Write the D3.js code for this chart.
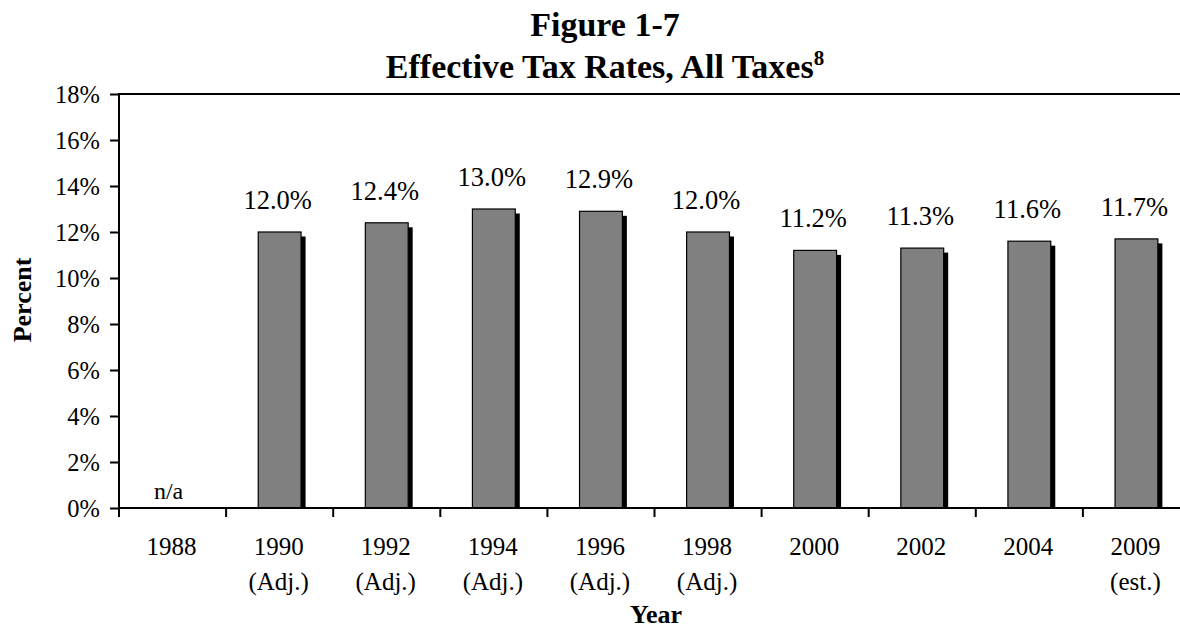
<!DOCTYPE html>
<html>
<head>
<meta charset="utf-8">
<script src="https://cdn.jsdelivr.net/npm/d3@7"></script>
<style>
  html, body { margin: 0; padding: 0; background: #fff; }
  svg { display: block; }
  svg text { font-family: "Liberation Serif", "Times New Roman", serif !important; fill: #000; }
</style>
</head>
<body>
<svg id="chart" width="1180" height="633" font-family="Liberation Serif, serif"></svg>
<script>
// ---- data ----
const years = ["1988", "1990", "1992", "1994", "1996", "1998", "2000", "2002", "2004", "2009"];
const yearNotes = ["", "(Adj.)", "(Adj.)", "(Adj.)", "(Adj.)", "(Adj.)", "", "", "", "(est.)"];
const rates = [null, 12.0, 12.4, 13.0, 12.9, 12.0, 11.2, 11.3, 11.6, 11.7];
const yTicks = [0, 2, 4, 6, 8, 10, 12, 14, 16, 18];
const titleLines = ["Figure 1-7", "Effective Tax Rates, All Taxes"];

(function () {
// ---- layout ----
const svg = d3.select("#chart");
const FF = "Liberation Serif, Times New Roman, serif";
const pL = 119, pR = 1190, pT = 94, pB = 508;

const x = d3.scaleBand().domain(years).range([pL, pR]).paddingInner(0.6).paddingOuter(0.3);
const xb = d3.scaleBand().domain(years).range([pL, pR]).padding(0);
const y = d3.scaleLinear().domain([0, 18]).range([pB, pT]);

// top border
svg.append("line").attr("x1", pL).attr("x2", pR).attr("y1", pT).attr("y2", pT)
  .attr("stroke", "#000").attr("stroke-width", 2);

// bars: shadow then bar
const data = years.map((yr, i) => ({ yr, v: rates[i], note: yearNotes[i] }));
const valid = data.filter(d => d.v != null);
const sh = 4.5;
svg.append("g").selectAll("rect").data(valid).join("rect")
  .attr("x", d => x(d.yr) + sh)
  .attr("y", d => y(d.v) + sh)
  .attr("width", x.bandwidth())
  .attr("height", d => pB - y(d.v) - sh)
  .attr("fill", "#000");
svg.append("g").selectAll("rect").data(valid).join("rect")
  .attr("x", d => x(d.yr))
  .attr("y", d => y(d.v))
  .attr("width", x.bandwidth())
  .attr("height", d => pB - y(d.v))
  .attr("fill", "#808080")
  .attr("stroke", "#000").attr("stroke-width", 1.2);

// data labels
svg.append("g").selectAll("text").data(data).join("text")
  .attr("x", d => x(d.yr) + x.bandwidth() / 2 - (d.v == null ? 4 : 2))
  .attr("y", d => d.v == null ? pB - 9 : y(d.v) - 23)
  .attr("text-anchor", "middle")
  .attr("font-family", FF)
  .style("font-size", d => d.v == null ? "24px" : "26.5px")
  .text(d => d.v == null ? "n/a" : d3.format(".1f")(d.v) + "%");

// y axis
const yAxis = d3.axisLeft(y).tickValues(yTicks).tickFormat(d => d + "%").tickSize(9).tickPadding(10);
const gy = svg.append("g").attr("transform", `translate(${pL},0)`).call(yAxis);
gy.attr("font-family", FF);
gy.select(".domain").remove();
gy.selectAll(".tick line").attr("stroke", "#000").attr("stroke-width", 2);
gy.selectAll(".tick text").attr("font-family", FF).style("font-size", "24.5px").attr("dy", "0.34em");
svg.append("line").attr("x1", pL).attr("x2", pL).attr("y1", pT - 1).attr("y2", pB + 9)
  .attr("stroke", "#000").attr("stroke-width", 2);

// x axis line
svg.append("line").attr("x1", pL).attr("x2", pR).attr("y1", pB).attr("y2", pB)
  .attr("stroke", "#000").attr("stroke-width", 2);
// category boundary ticks
svg.append("g").selectAll("line").data(years.slice(1)).join("line")
  .attr("x1", d => xb(d)).attr("x2", d => xb(d))
  .attr("y1", pB).attr("y2", pB + 9)
  .attr("stroke", "#000").attr("stroke-width", 2);

// x labels
const xl = svg.append("g").selectAll("g").data(data).join("g")
  .attr("transform", d => `translate(${xb(d.yr) + xb.bandwidth() / 2 - 1},0)`);
xl.append("text").attr("y", 555).attr("text-anchor", "middle").attr("font-family", FF)
  .style("font-size", "25px").text(d => d.yr);
xl.append("text").attr("y", 590).attr("text-anchor", "middle").attr("font-family", FF)
  .style("font-size", "25px").text(d => d.note);

// axis titles
svg.append("text").attr("x", 656).attr("y", 623).attr("text-anchor", "middle").attr("font-family", FF)
  .style("font-size", "26px").style("font-weight", "bold").text("Year");
svg.append("text").attr("transform", "translate(31,300) rotate(-90)").attr("text-anchor", "middle").attr("font-family", FF)
  .style("font-size", "26px").style("font-weight", "bold").text("Percent");

// title
svg.append("text").attr("x", 605).attr("y", 36).attr("text-anchor", "middle").attr("font-family", FF)
  .style("font-size", "34px").style("font-weight", "bold").text(titleLines[0]);
const t2 = svg.append("text").attr("x", 605).attr("y", 78).attr("text-anchor", "middle").attr("font-family", FF)
  .style("font-size", "34px").style("font-weight", "bold");
t2.append("tspan").text(titleLines[1]);
t2.append("tspan").attr("dy", -13).style("font-size", "21px").text("8");
})();
</script>
</body>
</html>
